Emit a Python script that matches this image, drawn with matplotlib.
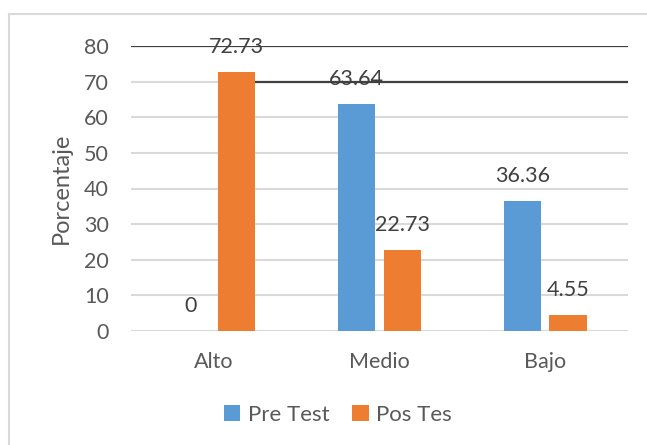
import matplotlib.pyplot as plt
from matplotlib.lines import Line2D
import numpy as np

categories = ['Alto', 'Medio', 'Bajo']
pre_test = [0, 63.64, 36.36]
pos_test = [72.73, 22.73, 4.55]
series_names = ['Pre Test', 'Pos Tes']
y_ticks = [0, 10, 20, 30, 40, 50, 60, 70, 80]

BLUE = '#5B9BD5'
ORANGE = '#ED7D31'
TEXT = '#595959'

plt.rcParams['font.family'] = ['Lato', 'DejaVu Sans']

W, H = 647, 445
fig = plt.figure(figsize=(W / 100, H / 100), dpi=100)
ax = fig.add_axes([131 / W, 1 - 331 / H, (628 - 131) / W, (331 - 46) / H])

x = np.arange(len(categories))
bw = 0.225
off = 0.138
b1 = ax.bar(x - off, pre_test, bw, color=BLUE, label=series_names[0], zorder=2)
b2 = ax.bar(x + off, pos_test, bw, color=ORANGE, label=series_names[1], zorder=2)

for bars, vals in ((b1, pre_test), (b2, pos_test)):
    for rect, v in zip(bars, vals):
        ax.annotate(f'{v:g}', (rect.get_x() + rect.get_width() / 2, v),
                    xytext=(0, 18), textcoords='offset points',
                    ha='center', va='center', fontsize=15.5, color='#404040', zorder=3)

ax.set_xlim(-0.5, 2.5)
ax.set_ylim(0, 80)
ax.set_yticks(y_ticks)
ax.set_xticks(x)
ax.set_xticklabels(categories)
ax.yaxis.grid(True, color='#D9D9D9', linewidth=1.5, zorder=0)
ax.set_axisbelow(True)
for s in ax.spines.values():
    s.set_visible(False)
ax.tick_params(axis='both', length=0, labelsize=15.5, colors=TEXT)
ax.tick_params(axis='y', pad=16)
ax.tick_params(axis='x', pad=15)
ax.set_ylabel('Porcentaje', fontsize=17, color=TEXT, labelpad=9)

# dark lines drawn over the chart
ax.axhline(80, color='#404040', linewidth=1.6, zorder=5)
ax.hlines(70, x[0] + off + bw / 2, 2.5, color='#404040', linewidth=1.6, zorder=5)

leg = fig.legend(loc='center', bbox_to_anchor=(338 / W, 1 - 415 / H), ncol=2,
                 frameon=False, fontsize=16, handlelength=0.75, handleheight=0.75,
                 columnspacing=1.0, handletextpad=0.35)
for t in leg.get_texts():
    t.set_color(TEXT)

# chart area border (left and top edges)
fig.add_artist(Line2D([9 / W, 9 / W], [0, 1 - 14 / H], color='#D9D9D9', linewidth=1.5))
fig.add_artist(Line2D([9 / W, 1], [1 - 14 / H, 1 - 14 / H], color='#D9D9D9', linewidth=1.5))

fig.savefig('out.png', dpi=100)
